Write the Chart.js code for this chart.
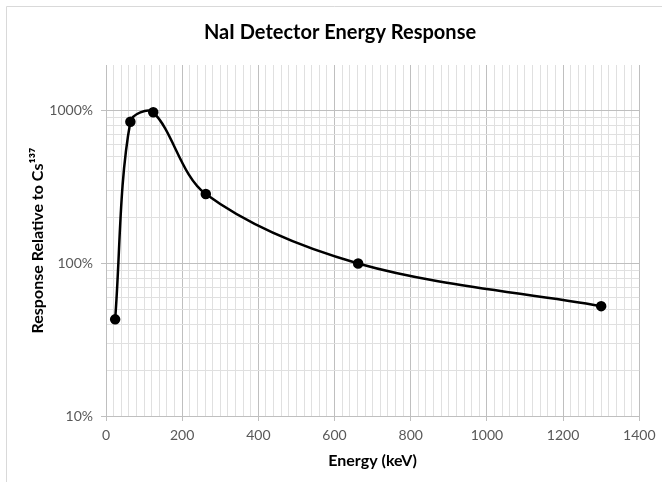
<!DOCTYPE html>
<html>
<head>
<meta charset="utf-8">
<script src="https://cdn.jsdelivr.net/npm/chart.js@4/dist/chart.umd.min.js"></script>
<style>
  html, body { margin: 0; padding: 0; background: #fff; }
  #wrap { width: 662px; height: 482px; position: relative; }
</style>
</head>
<body>
<div id="wrap"><canvas id="c" width="662" height="482"></canvas></div>
<script>
// Data
const energiesKeV = [24, 64, 124, 262, 662, 1300];
const responsePct = [43, 850, 980, 285, 100, 52.5];
const yMajorTicks = [10, 100, 1000];
const xLabelStep = 200;

const chartTitle = 'NaI Detector Energy Response';
const xTitle = 'Energy (keV)';
const yTitle = 'Response Relative to Cs\u00B9\u00B3\u2077';

const FONT = "Lato, 'Liberation Sans', sans-serif";

const frame = {
  id: 'frame',
  beforeDraw(chart) {
    const ctx = chart.ctx;
    ctx.save();
    ctx.strokeStyle = '#d9d9d9';
    ctx.lineWidth = 1;
    ctx.beginPath();
    ctx.moveTo(6.5, 482);
    ctx.lineTo(6.5, 6.5);
    ctx.lineTo(662, 6.5);
    ctx.stroke();
    ctx.restore();
  }
};

const isMajorY = v => yMajorTicks.includes(v);

new Chart(document.getElementById('c'), {
  type: 'line',
  data: {
    datasets: [{
      data: energiesKeV.map((e, i) => ({ x: e, y: responsePct[i] })),
      borderColor: '#000',
      backgroundColor: '#000',
      borderWidth: 2.5,
      pointRadius: 4,
      pointBackgroundColor: '#000',
      pointBorderColor: '#000',
      tension: 0.33,
      fill: false
    }]
  },
  options: {
    responsive: false,
    animation: false,
    events: [],
    layout: { padding: { left: 40, right: 22, top: 0, bottom: 0 } },
    plugins: {
      legend: { display: false },
      tooltip: { enabled: false },
      title: {
        display: true,
        text: chartTitle,
        color: '#000',
        font: { family: FONT, size: 20, weight: 'bold' },
        padding: { top: 21, bottom: 20 }
      }
    },
    scales: {
      x: {
        type: 'linear',
        min: 0,
        max: 1400,
        afterFit(s) { s.height = 66; },
        afterBuildTicks(s) {
          const t = [];
          for (let v = 0; v <= 1400; v += 20) t.push({ value: v });
          s.ticks = t;
        },
        border: { color: '#bfbfbf', width: 1 },
        grid: {
          color: c => (c.tick && c.tick.value % xLabelStep === 0) ? '#bfbfbf' : '#e0e0e0',
          tickColor: c => (c.tick && c.tick.value % xLabelStep === 0) ? '#bfbfbf' : 'rgba(0,0,0,0)',
          tickLength: 5,
          lineWidth: 1
        },
        ticks: {
          autoSkip: false,
          maxRotation: 0,
          padding: 6.5,
          color: '#595959',
          font: { family: FONT, size: 14 },
          callback: v => (v % xLabelStep === 0 ? String(v) : '')
        },
        title: {
          display: true,
          text: xTitle,
          color: '#000',
          font: { family: FONT, size: 16, weight: 'bold' },
          padding: { top: 4, bottom: 11.5 }
        }
      },
      y: {
        type: 'logarithmic',
        min: 10,
        max: 2000,
        afterFit(s) { s.width = 66; },
        afterBuildTicks(s) {
          const t = [];
          [10, 100, 1000].forEach(d => {
            for (let k = 1; k <= 9; k++) {
              const v = d * k;
              if (v <= 2000) t.push({ value: v });
            }
          });
          t.push({ value: 2000 });
          s.ticks = t;
        },
        border: { color: '#bfbfbf', width: 1 },
        grid: {
          color: c => {
            const v = c.tick && c.tick.value;
            if (v === 2000) return 'rgba(0,0,0,0)';
            return isMajorY(v) ? '#bfbfbf' : '#e0e0e0';
          },
          tickColor: c => (c.tick && isMajorY(c.tick.value)) ? '#bfbfbf' : 'rgba(0,0,0,0)',
          tickLength: 5,
          lineWidth: 1
        },
        ticks: {
          autoSkip: false,
          padding: 8,
          color: '#595959',
          font: { family: FONT, size: 14 },
          callback: v => (isMajorY(v) ? v + '%' : '')
        },
        title: {
          display: true,
          text: yTitle,
          color: '#000',
          font: { family: FONT, size: 16, weight: 'bold' },
          padding: { top: -11.6, bottom: 0 }
        }
      }
    }
  },
  plugins: [frame]
});
</script>
</body>
</html>
